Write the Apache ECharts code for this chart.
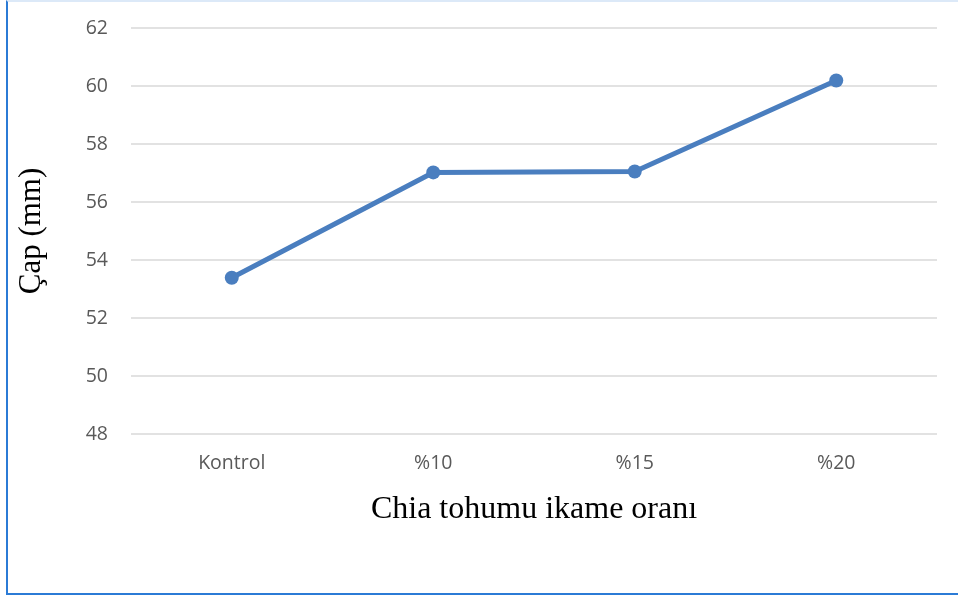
<!DOCTYPE html>
<html>
<head>
<meta charset="utf-8">
<script src="https://cdn.jsdelivr.net/npm/echarts@6/dist/echarts.min.js"></script>
<style>
  html, body { margin: 0; padding: 0; background: #fff; }
  #frame {
    position: absolute; left: 6px; top: 0; width: 952px; height: 595px;
    border-left: 2px solid #2b7bd6; border-bottom: 2px solid #2b7bd6;
    border-top: 2px solid #dce9f8; box-sizing: border-box;
  }
  #chart { position: absolute; left: 0; top: 0; width: 958px; height: 599px; }
</style>
</head>
<body>
<div id="frame"></div>
<div id="chart"></div>
<script>
// Çap (mm) by chia seed substitution level
const categories = ['Kontrol', '%10', '%15', '%20'];
const diameter = [53.39, 57.02, 57.05, 60.19];
const yTicks = { min: 48, max: 62, step: 2 };

const chart = echarts.init(document.getElementById('chart'), null, { renderer: 'canvas' });
chart.setOption({
  animation: false,
  backgroundColor: 'transparent',
  grid: { left: 131, right: 21, top: 28, bottom: 165 },
  xAxis: {
    type: 'category',
    data: categories,
    boundaryGap: true,
    axisLine: { show: false },
    axisTick: { show: false },
    axisLabel: { color: '#595959', fontSize: 19.5, fontFamily: 'Open Sans', margin: 19 },
    name: 'Chia tohumu ikame oranı',
    nameLocation: 'middle',
    nameGap: 60,
    nameTextStyle: { color: '#000', fontSize: 32, fontFamily: 'Liberation Serif' }
  },
  yAxis: {
    type: 'value',
    min: yTicks.min, max: yTicks.max, interval: yTicks.step,
    axisLine: { show: false },
    axisTick: { show: false },
    splitLine: { lineStyle: { color: '#d9d9d9', width: 1.5 } },
    axisLabel: { color: '#595959', fontSize: 19.5, fontFamily: 'Open Sans', margin: 23 },
    name: 'Çap (mm)',
    nameLocation: 'middle',
    nameGap: 84,
    nameTextStyle: { color: '#000', fontSize: 31, fontFamily: 'Liberation Serif' }
  },
  series: [{
    type: 'line',
    data: diameter,
    symbol: 'circle',
    symbolSize: 14,
    lineStyle: { color: '#4a7ebf', width: 5 },
    itemStyle: { color: '#4a7ebf' }
  }]
});
</script>
</body>
</html>
